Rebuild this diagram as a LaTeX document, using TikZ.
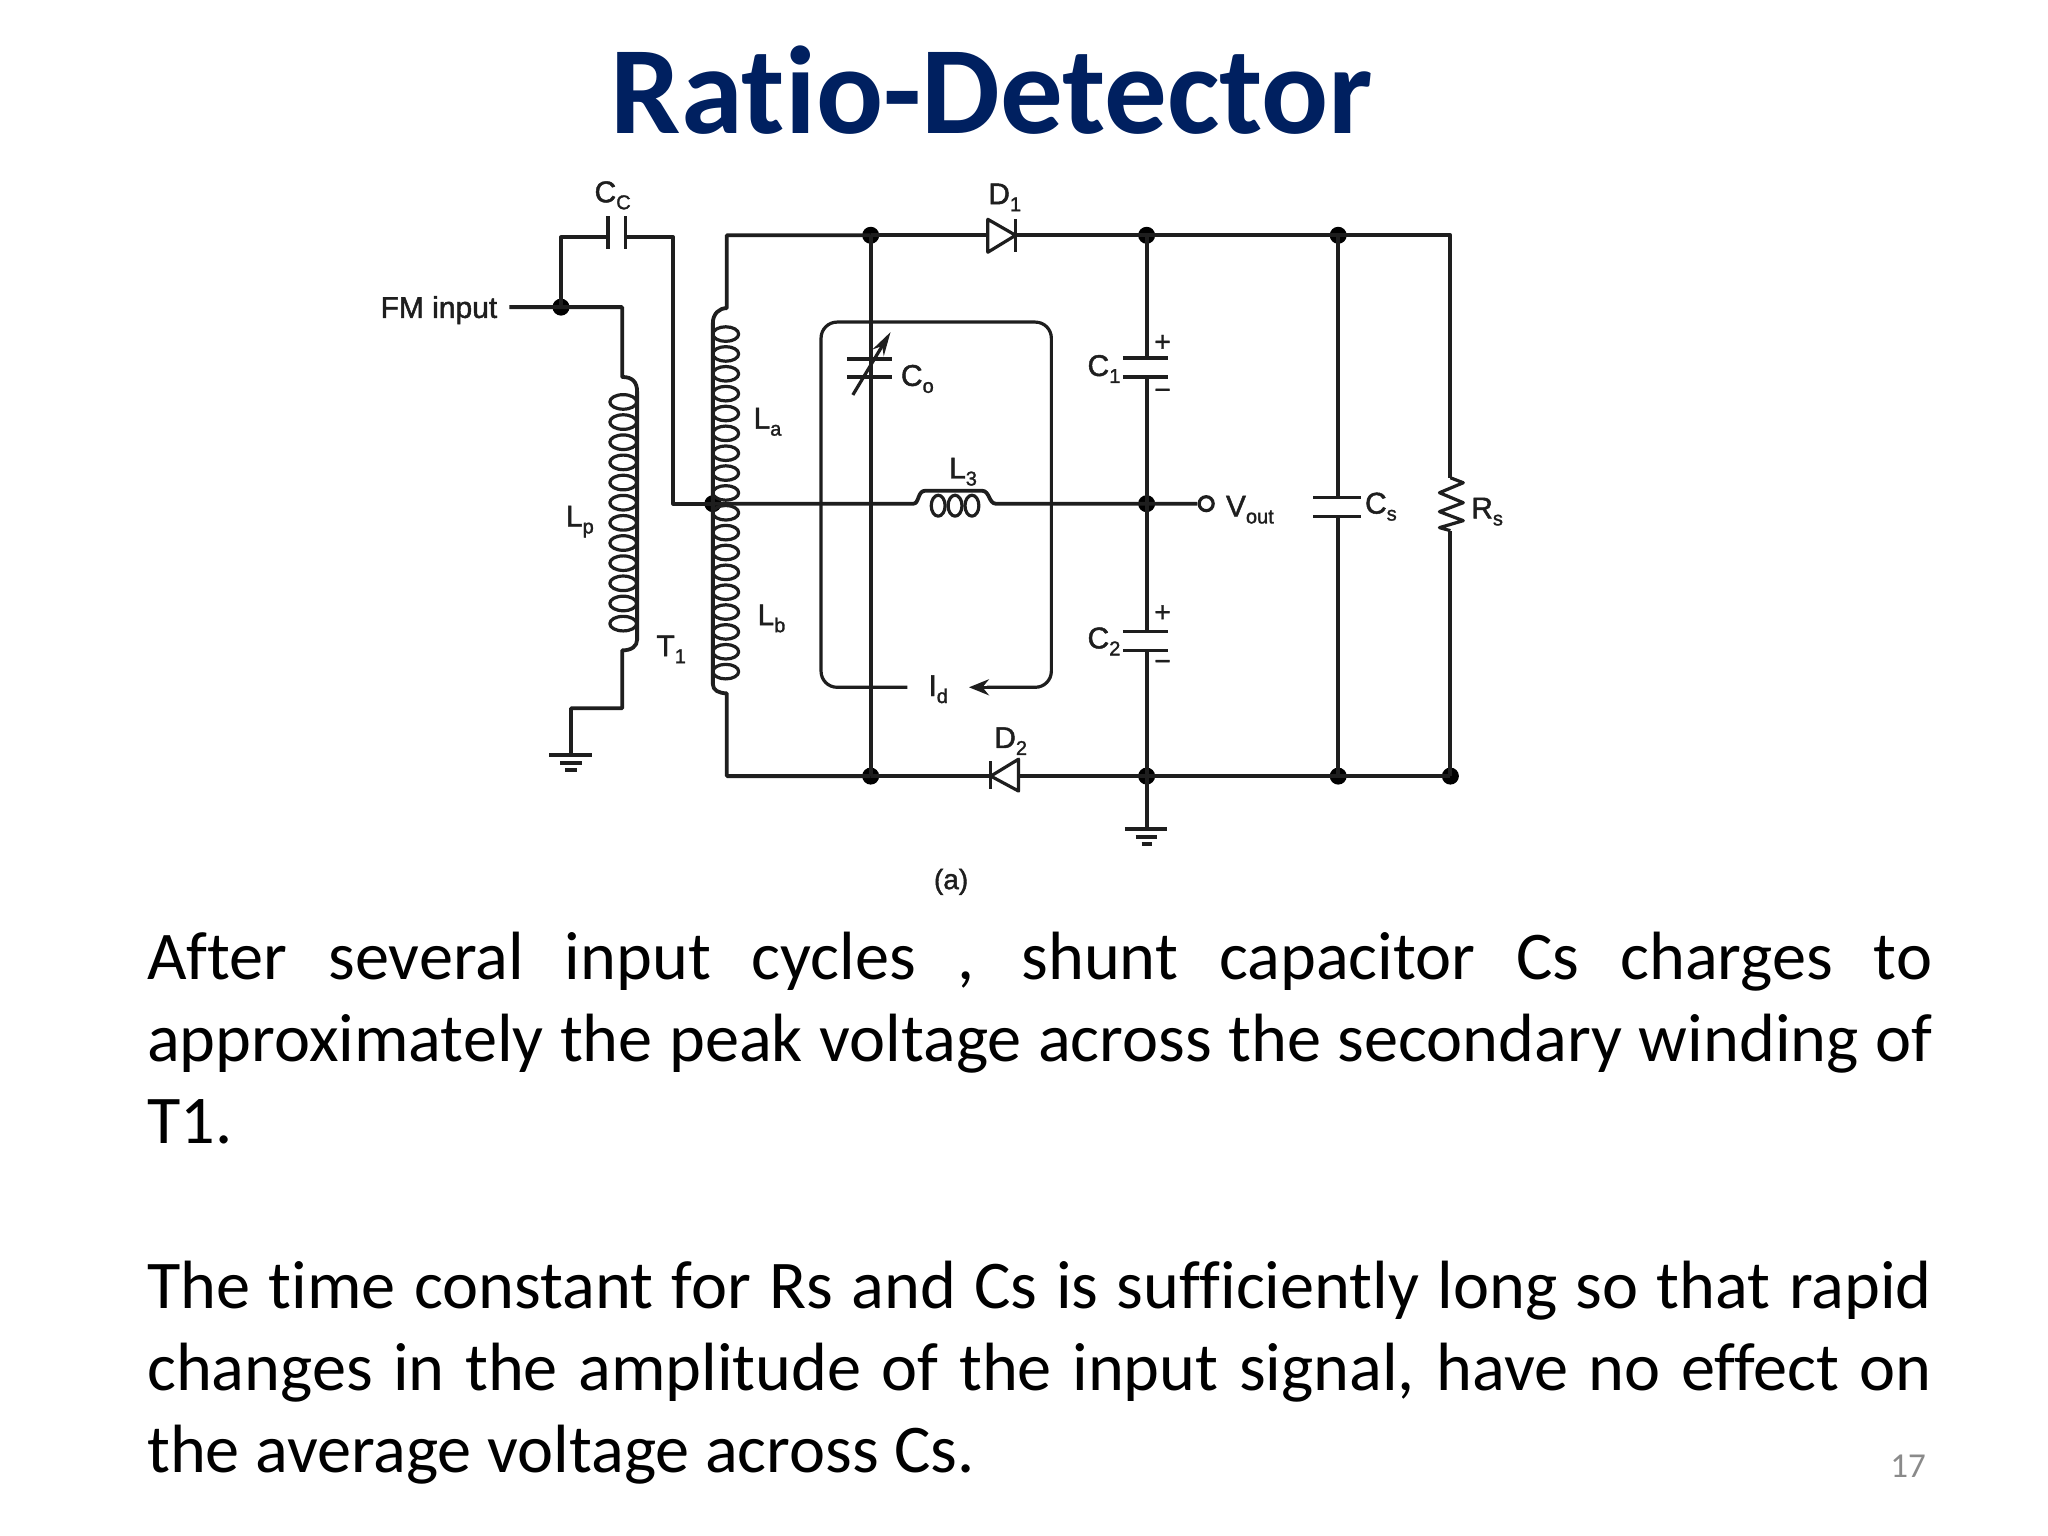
\documentclass[tikz,border=0pt]{standalone}
\usepackage{fontspec}
\setmainfont{Carlito}[Ligatures=NoCommon]
\newfontfamily\labfont[FakeBold=1.5]{Liberation Sans}
\usetikzlibrary{arrows.meta}
\definecolor{navy}{HTML}{002060}
\definecolor{ink}{HTML}{1E1E1E}
\definecolor{pagegrey}{HTML}{8A8A8A}
\newcommand{\lbl}[2]{{\labfont\fontsize{30}{30}\selectfont #1\raisebox{-7pt}{\fontsize{20}{20}\selectfont #2}}}
\tikzset{
  wire/.style={draw=ink,line width=3.8pt,line join=round},
  thin wire/.style={draw=ink,line width=3.2pt,line join=round},
  dotnode/.style={circle,fill=black,draw=none,inner sep=0pt,minimum size=17pt},
  lab/.style={inner sep=0pt,text=ink},
  body/.style={inner sep=0pt,anchor=base west,text=black,font=\fontsize{68.3}{82}\selectfont},
}
\newcommand{\jline}[1]{\makebox[1785pt][s]{#1}}
\begin{document}
\begin{tikzpicture}[x=1pt,y=-1pt]
\useasboundingbox (0,0) rectangle (2048,1536);
\fill[white] (0,0) rectangle (2048,1536);
% title
\node[inner sep=0pt,text=navy,font=\fontsize{125}{125}\selectfont\bfseries] (title) at (992,90) {Ratio-Detector};
\begin{scope}[x=0.9926pt,y=-0.9978pt,shift={(4.15pt,-0.8pt)}]
% junctions
\node[dotnode] (jin) at (561,307) {};
\node[dotnode] (jct) at (714,504) {};
\node[dotnode] (jtl) at (873,235) {};
\node[dotnode] (jbl) at (873,777) {};
\node[dotnode] (jtc) at (1151,235) {};
\node[dotnode] (jmc) at (1151,504) {};
\node[dotnode] (jbc) at (1151,777) {};
\node[dotnode] (jtr) at (1344,235) {};
\node[dotnode] (jbr) at (1344,777) {};
\node[dotnode] (jrb) at (1457,777) {};
\coordinate (jrt) at (1457,235);
\coordinate (fmstart) at (509,307);
% input and Cc
\draw[wire] (fmstart) -- (jin.center) -- (622.6,307) -- (622.6,377) .. controls (633,377) and (637.7,382) .. (637.7,392) -- (637.7,640) .. controls (637.7,647) and (632,651) .. (622.6,651) -- (622.6,709) -- (571,709) -- (571,756);
\draw[wire] (jin.center) -- (561,237) -- (608,237);
\draw[wire] (608,216) -- (608,249);
\draw[wire] (626,216) -- (626,249);
\draw[wire] (626,237) -- (674,237) -- (674,504) -- (jct.center);
% primary coils
\foreach \i in {0,...,11} \draw[thin wire] (623.7,{402+20.2*\i}) ellipse [x radius=13.5,y radius=7.3];
% ground 1
\draw[wire] (549,756) -- (592,756);
\draw[wire] (560,764) -- (582,764);
\draw[wire] (565,771) -- (577,771);
% secondary
\draw[wire] (jtl.center) -- (728,235) -- (728,308) .. controls (720,308) and (714,314) .. (714,323) -- (714,685) .. controls (714,691) and (720,694) .. (728,694) -- (728,777) -- (jbl.center);
\foreach \i in {0,...,17} \draw[thin wire] (727,{334+19.9*\i}) ellipse [x radius=13,y radius=7.3];
% rails
\draw[wire] (jtl.center) -- (jbl.center);
\draw[wire] (jtl.center) -- (991,235);
\draw[wire] (1019,235) -- (jtc.center) -- (jtr.center) -- (jrt) -- (1457,478);
\draw[wire] (jbl.center) -- (994,777);
\draw[wire] (1021,777) -- (jbc.center) -- (jbr.center) -- (jrb.center);
\draw[wire] (jtr.center) -- (1344,498);
\draw[wire] (1344,517) -- (jbr.center);
\draw[wire] (jrb.center) -- (1457,531);
% diodes
\draw[thin wire,fill=white] (991,219) -- (1019,235) -- (991,252) -- cycle;
\draw[thin wire] (1019,219) -- (1019,252);
\draw[thin wire,fill=white] (1022,760) -- (994,777) -- (1022,792) -- cycle;
\draw[thin wire] (994,762) -- (994,790);
% loop
\draw[thin wire,rounded corners=16pt] (910,688) -- (823,688) -- (823,322) -- (1055,322) -- (1055,688) -- (990,688);
\draw[thin wire,-{Stealth[length=20pt,width=16pt]}] (990,688) -- (972,688);
% variable capacitor
\draw[thin wire] (849,359) -- (894,359);
\draw[thin wire] (849,377) -- (894,377);
\draw[thin wire,-{Stealth[length=24pt,width=13pt]}] (855,395) -- (893,332);
% mid wire and L3
\draw[wire] (jct.center) -- (916,504) .. controls (922,504) and (920,491) .. (928,491) -- (985,491) .. controls (993,491) and (992,504) .. (999,504) -- (jmc.center) -- (1202,504);
\foreach \x in {941,958,975} \draw[thin wire,fill=white] (\x,506) ellipse [x radius=7,y radius=10.5];
\node[draw=ink,line width=3.2pt,circle,fill=white,inner sep=0pt,minimum size=14pt] (vout) at (1211,504) {};
% C1, C2
\draw[wire] (jtc.center) -- (1151,358);
\draw[wire] (1151,377) -- (1151,632);
\draw[wire] (1151,651) -- (jbc.center);
\draw[wire] (jbc.center) -- (1151,830);
\foreach \y in {358,377,632,651} \draw[thin wire] (1127,\y) -- (1173,\y);
% Cs
\draw[thin wire] (1319,498) -- (1367,498);
\draw[thin wire] (1319,517) -- (1367,517);
% Rs
\draw[thin wire] (1457,478) -- (1470,483) -- (1446,493) -- (1470,503) -- (1446,512) -- (1470,521) -- (1446,528) -- (1457,531);
% ground 2
\draw[wire] (1129,830) -- (1172,830);
\draw[wire] (1140,838) -- (1161,838);
\draw[wire] (1146,845) -- (1156,845);
% labels
\node[lab] (fm) at (438,310) {\labfont\fontsize{30}{30}\selectfont FM input};
\node[lab] (cc) at (613,195) {\lbl{C}{C}};
\node[lab] (d1) at (1008,197) {\lbl{D}{1}};
\node[lab] (d2) at (1014,742) {\lbl{D}{2}};
\node[lab] (co) at (920,379) {\lbl{C}{o}};
\node[lab] (c1) at (1108,369) {\lbl{C}{1}};
\node[lab] (c2) at (1108,642) {\lbl{C}{2}};
\node[lab] (cs) at (1387,507) {\lbl{C}{s}};
\node[lab] (rs) at (1494,512) {\lbl{R}{s}};
\node[lab] (l3) at (966,472) {\lbl{L}{3}};
\node[lab] (la) at (769,422) {\lbl{L}{a}};
\node[lab] (lb) at (773,619) {\lbl{L}{b}};
\node[lab] (lp) at (580,522) {\lbl{L}{p}};
\node[lab] (t1) at (672,650) {\lbl{T}{1}};
\node[lab] (idl) at (941,690) {\lbl{I}{d}};
\node[lab] (vo) at (1255,510) {\lbl{V}{out}};
\node[lab] (a) at (954,883) {\labfont\fontsize{28}{28}\selectfont (a)};
\node[lab] (p1) at (1167,343) {\labfont\fontsize{28}{28}\selectfont +};
\node[lab] (m1) at (1167,394) {\labfont\fontsize{28}{28}\selectfont −};
\node[lab] (p2) at (1167,614) {\labfont\fontsize{28}{28}\selectfont +};
\node[lab] (m2) at (1167,666) {\labfont\fontsize{28}{28}\selectfont −};
\end{scope}
% body text
\node[body] (b1) at (147,979) {\jline{After several input cycles , shunt capacitor Cs charges to}};
\node[body] (b2) at (147,1061) {\jline{approximately the peak voltage across the secondary winding of}};
\node[body] (b3) at (147,1143) {T1.};
\node[body] (b4) at (147,1308) {\jline{The time constant for Rs and Cs is sufficiently long so that rapid}};
\node[body] (b5) at (147,1390) {\jline{changes in the amplitude of the input signal, have no effect on}};
\node[body] (b6) at (147,1472) {the average voltage across Cs.};
\node[inner sep=0pt,text=pagegrey,font=\fontsize{35}{35}\selectfont] (pg) at (1908,1466) {17};
\end{tikzpicture}
\end{document}
